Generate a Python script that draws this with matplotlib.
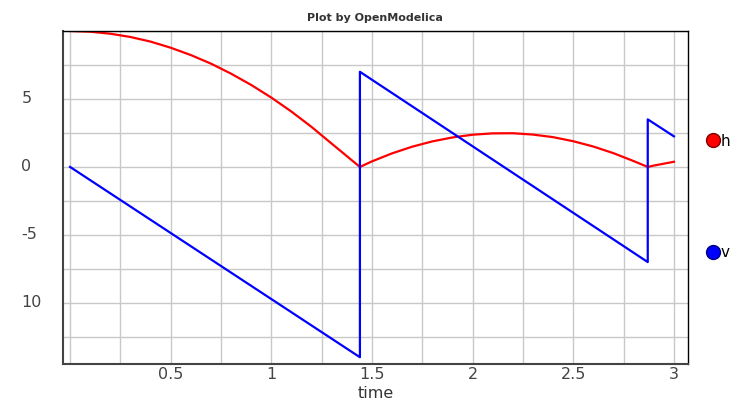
import matplotlib.pyplot as plt
from matplotlib.lines import Line2D
from matplotlib.ticker import MultipleLocator

# Data (bouncing ball: height h and velocity v over time)
t_h = [0.0, 0.1, 0.2, 0.3, 0.4, 0.5, 0.6, 0.7, 0.8, 0.9, 1.0, 1.1, 1.2, 1.3, 1.44,
       1.5, 1.6, 1.7, 1.8, 1.9, 2.0, 2.1, 2.2, 2.3, 2.4, 2.5, 2.6, 2.7, 2.8, 2.87,
       2.9, 3.0]
h = [10.0, 9.95, 9.80, 9.56, 9.22, 8.77, 8.23, 7.60, 6.86, 6.03, 5.10, 4.07, 2.94, 1.71, 0.0,
     0.41, 1.0, 1.49, 1.88, 2.17, 2.37, 2.47, 2.48, 2.38, 2.19, 1.89, 1.50, 1.01, 0.43, 0.0,
     0.10, 0.38]

t_v = [0.0, 1.44, 1.44, 2.87, 2.87, 3.0]
v = [0.0, -14.0, 7.0, -7.0, 3.5, 2.25]

ytick_vals = [5, 0, -5, -10]
ytick_labels = ['5', '0', '-5', '10']
xtick_vals = [0.5, 1, 1.5, 2, 2.5, 3]
xtick_labels = ['0.5', '1', '1.5', '2', '2.5', '3']

fig = plt.figure(figsize=(7.32, 4.08), dpi=100)
ax = fig.add_axes([0.0861, 0.1078, 0.8538, 0.8162])

ax.plot(t_h, h, color='#ff0000', linewidth=1.6, label='h')
ax.plot(t_v, v, color='#0000ff', linewidth=1.6, label='v')

ax.set_xlim(-0.035, 3.07)
ax.set_ylim(-14.5, 10.0)

ax.set_xticks(xtick_vals)
ax.set_xticklabels(xtick_labels)
ax.set_yticks(ytick_vals)
ax.set_yticklabels(ytick_labels)
ax.xaxis.set_minor_locator(MultipleLocator(0.25))
ax.yaxis.set_minor_locator(MultipleLocator(2.5))
ax.grid(True, which='both', color='#c8c8c8', linewidth=1.0)
ax.set_axisbelow(True)
ax.tick_params(which='both', length=0, labelsize=11.5, labelcolor='#444444')
ax.tick_params(axis='x', pad=2)
ax.tick_params(axis='y', pad=30)
for lab in ax.get_yticklabels():
    lab.set_horizontalalignment('left')
    lab.set_verticalalignment('center')

for side in ['left', 'bottom']:
    ax.spines[side].set_color('#444444')
    ax.spines[side].set_linewidth(1.5)
for side in ['top', 'right']:
    ax.spines[side].set_color('black')
    ax.spines[side].set_linewidth(1.0)

ax.set_xlabel('time', fontsize=11.5, color='#333333', labelpad=3)
fig.text(0.512, 0.957, 'Plot by OpenModelica', ha='center', va='center',
         fontsize=8, fontweight='bold', color='#333333')

# legend on the right, with round markers
handles = [Line2D([], [], linestyle='none', marker='o', markersize=10,
                  markerfacecolor='#ff0000', markeredgecolor='#800000'),
           Line2D([], [], linestyle='none', marker='o', markersize=10,
                  markerfacecolor='#0000ff', markeredgecolor='#000080')]
fig.legend(handles, ['h', 'v'], loc='upper left', bbox_to_anchor=(0.966, 0.672),
           frameon=False, handlelength=0.8, handletextpad=0.1,
           labelspacing=6.3, fontsize=11, borderaxespad=0, borderpad=0)

plt.savefig('out.png', dpi=100)
